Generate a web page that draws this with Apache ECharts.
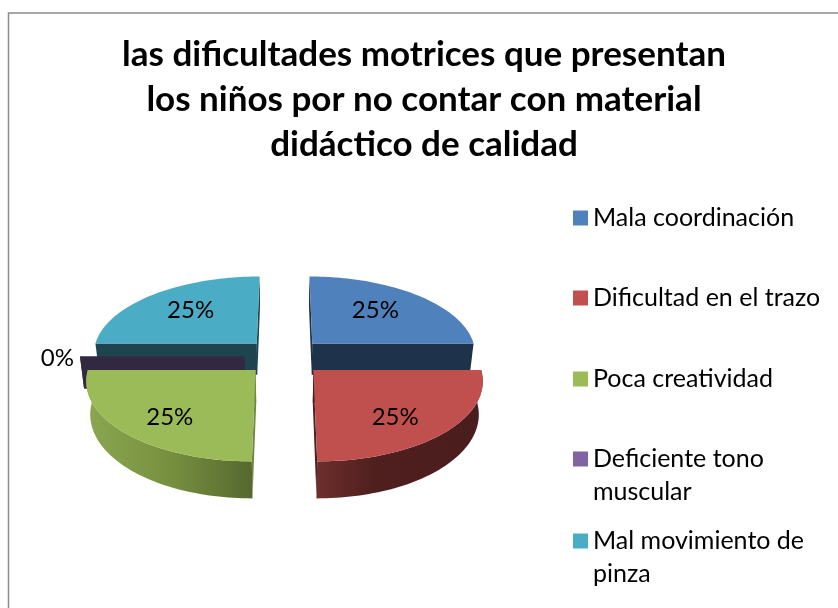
<!DOCTYPE html>
<html>
<head>
<meta charset="utf-8">
<style>
  html, body { margin: 0; padding: 0; background: #fff; }
  #chart { width: 838px; height: 608px; }
</style>
<script src="https://cdn.jsdelivr.net/npm/echarts@6/dist/echarts.min.js"></script>
</head>
<body>
<div id="chart"></div>
<script>
const categories = ['Mala coordinación', 'Dificultad en el trazo', 'Poca creatividad', 'Deficiente tono\nmuscular', 'Mal movimiento de\npinza']
const values = [25, 25, 25, 0, 25]
const topColors = ['#4f81bd', '#c0504d', '#9bbb59', '#8064a2', '#4bacc6']
const wallColors = ['#1e324c', '#4d1f1e', '#6f8a40', '#332841', '#1e4450']
const titleText = 'las dificultades motrices que presentan\nlos niños por no contar con material\ndidáctico de calidad'

// fake 3d pie: disc projected with a vanishing point above the chart
const cx = 284.5
const vanishY = -317
const scaleY = 673.5
const radius = 164.5
const depth = 0.115 / 164.5
const explode = 40
const wallHeight = 32
const wallShrink = 0.98
const fontName = 'Lato'

const total = values.reduce((a, b) => a + b, 0)
const slices = []
let start = 90
values.forEach(function(v) {
  const sweep = v / total * 360
  slices.push({ start: start, end: start - sweep, mid: start - sweep / 2 })
  start -= sweep
})

function project(slice, angle, r, down) {
  const rad = angle * Math.PI / 180
  const midRad = slice.mid * Math.PI / 180
  const X = r * Math.cos(rad) + explode * Math.cos(midRad)
  const Z = (r * Math.sin(rad) + explode * Math.sin(midRad)) * depth
  const s = 1 / (1 + Z)
  return [cx + X * s * (down ? wallShrink : 1), vanishY + scaleY * s + (down ? wallHeight * s : 0)]
}

function arc(slice, from, to, down) {
  const pts = []
  for (let i = 0; i <= 60; i++) {
    pts.push(project(slice, from + (to - from) * i / 60, radius, down))
  }
  return pts
}

function face(points, fill) {
  return { type: 'polygon', shape: { points: points }, style: { fill: fill } }
}

// the label sits inside the slice, nudged the way the original has it
const labelFraction = 0.67
const labelNudge = [-8, -4, 0, -77, 5]
const labelLift = [0, 7, 7, 2, 0]

function wallFill(i) {
  if (i === 2) {
    return new echarts.graphic.LinearGradient(0, 0, 1, 0, [
      { offset: 0, color: '#8ba750' },
      { offset: 0.5, color: '#77903f' },
      { offset: 1, color: '#56682f' }
    ])
  }
  if (i === 1) {
    return new echarts.graphic.LinearGradient(0, 0, 1, 0, [
      { offset: 0, color: '#6e2f2c' },
      { offset: 0.35, color: '#4f1f1e' },
      { offset: 1, color: '#4a1d1d' }
    ])
  }
  return wallColors[i]
}

function renderSlice(i) {
  const slice = slices[i]
  const apex = project(slice, slice.mid, 0, false)
  const apexDown = project(slice, slice.mid, 0, true)
  const children = []
  // flat cut faces
  ;[slice.start, slice.end].forEach(function(a) {
    children.push(face([apex, project(slice, a, radius, false), project(slice, a, radius, true), apexDown], wallColors[i]))
  })
  // outer rounded wall
  if (values[i] > 0) {
    const lo = Math.sin(slice.mid * Math.PI / 180) < 0
    if (lo) {
      children.push(face(arc(slice, slice.start, slice.end, false).concat(arc(slice, slice.end, slice.start, true)), wallFill(i)))
    }
    children.push(face([apex].concat(arc(slice, slice.start, slice.end, false)), topColors[i]))
  }
  const p = project(slice, slice.mid, radius * labelFraction, false)
  children.push({
    type: 'text',
    style: {
      text: Math.round(values[i] / total * 100) + '%',
      x: p[0] + labelNudge[i],
      y: p[1] + labelLift[i],
      align: 'center',
      verticalAlign: 'middle',
      fill: '#000',
      font: '24px ' + fontName
    }
  })
  return { type: 'group', children: children }
}

const drawOrder = [4, 0, 3, 2, 1]
const legendCenters = [218, 298, 379, 459, 541]
const legendLine = 33

const chart = echarts.init(document.getElementById('chart'))
chart.setOption({
  animation: false,
  backgroundColor: '#fff',
  title: {
    text: titleText,
    left: 419,
    top: 27,
    textAlign: 'center',
    textStyle: { fontFamily: fontName, fontWeight: 'bold', fontSize: 35, lineHeight: 45, color: '#000' }
  },
  graphic: [{
    type: 'rect',
    silent: true,
    shape: { x: 8.5, y: 13, width: 900, height: 700 },
    style: { fill: 'none', stroke: '#8a8a8a', lineWidth: 1.5 }
  }],
  legend: categories.map(function(name, i) {
    // a blank first line keeps the marker level with the first text line
    const lines = name.indexOf('\n') >= 0 ? 3 : 1
    return {
      left: 573,
      top: legendCenters[i] - lines * legendLine / 2,
      padding: 0,
      itemWidth: 15,
      itemHeight: 15,
      itemGap: 0,
      selectedMode: false,
      formatter: function(n) {
        return lines === 3 ? '\n' + n : n
      },
      data: [{
        name: name,
        icon: 'rect',
        itemStyle: { color: topColors[i] }
      }],
      textStyle: {
        fontFamily: fontName,
        fontSize: 25,
        lineHeight: legendLine,
        color: '#000'
      }
    }
  }),
  series: categories.map(function(name, i) {
    return {
      type: 'custom',
      name: name,
      coordinateSystem: 'none',
      silent: true,
      z: 2 + drawOrder.indexOf(i),
      itemStyle: { color: topColors[i] },
      data: [[values[i]]],
      renderItem: function() {
        return renderSlice(i)
      }
    }
  })
})
</script>
</body>
</html>
